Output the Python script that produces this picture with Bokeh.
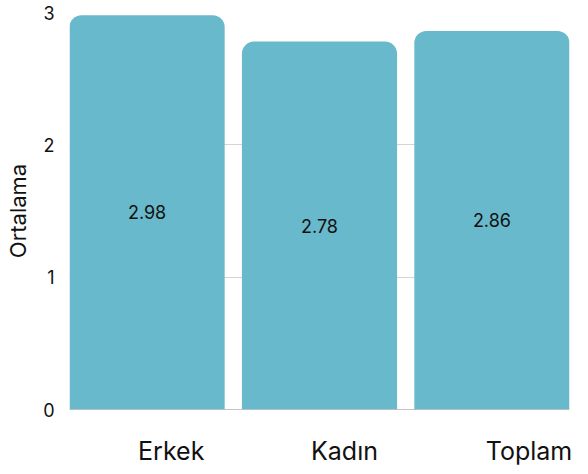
from bokeh.plotting import figure
from bokeh.models import ColumnDataSource, FixedTicker, Range1d, Span
from bokeh.core.properties import value
from bokeh.embed import file_html
from bokeh.resources import INLINE

categories = ["Erkek", "Kadın", "Toplam"]
means = [2.98, 2.78, 2.86]
bar_pos = [0, 1, 2]
label_pos = [0.14, 1.145, 2.215]
y_ticks = [0, 1, 2, 3]

FONT = "Inter"
BAR = "#68B9CB"

src = ColumnDataSource(dict(
    x=bar_pos,
    top=means,
    mid=[m / 2 for m in means],
    txt=[f"{m:.2f}" for m in means],
))

p = figure(width=588, height=474, output_backend="svg", toolbar_location=None,
           x_range=Range1d(-0.45, 2.45), y_range=Range1d(0, 3),
           min_border_left=69, min_border_right=19, min_border_top=12, min_border_bottom=65)
p.outline_line_color = None
p.background_fill_color = "white"
p.border_fill_color = "white"

p.add_layout(Span(location=0, dimension="width", line_color="#8a8a8a", line_width=1, level="underlay"))

p.vbar(x="x", top="top", bottom=0, width=0.9, source=src, fill_color=BAR,
       line_color=None, border_radius=(12, 12, 0, 0))

p.text(x="x", y="mid", text="txt", source=src, text_align="center", text_baseline="middle",
       text_font=value(FONT), text_font_size="18px", text_color="#111111")

# x axis
p.xaxis.ticker = FixedTicker(ticks=label_pos)
p.xaxis.major_label_overrides = {t: c for t, c in zip(label_pos, categories)}
p.xaxis.axis_line_color = None
p.xaxis.major_tick_line_color = None
p.xaxis.minor_tick_line_color = None
p.xaxis.major_tick_out = 0
p.xaxis.major_label_standoff = 26
p.xaxis.major_label_text_font = FONT
p.xaxis.major_label_text_font_size = "25px"
p.xaxis.major_label_text_color = "#111111"
p.xgrid.grid_line_color = None

# y axis
p.yaxis.ticker = FixedTicker(ticks=y_ticks)
p.yaxis.axis_line_color = None
p.yaxis.major_tick_line_color = None
p.yaxis.minor_tick_line_color = None
p.yaxis.major_tick_out = 0
p.yaxis.major_label_standoff = 15
p.yaxis.major_label_text_font = FONT
p.yaxis.major_label_text_font_size = "18px"
p.yaxis.major_label_text_color = "#111111"
p.yaxis.axis_label = "Ortalama"
p.yaxis.axis_label_text_font = FONT
p.yaxis.axis_label_text_font_size = "22px"
p.yaxis.axis_label_text_font_style = "normal"
p.yaxis.axis_label_text_color = "#111111"
p.yaxis.axis_label_standoff = 9
p.ygrid.grid_line_color = "#d4d4d4"
p.ygrid.grid_line_width = 1

open("out.html", "w").write(file_html(p, INLINE))
